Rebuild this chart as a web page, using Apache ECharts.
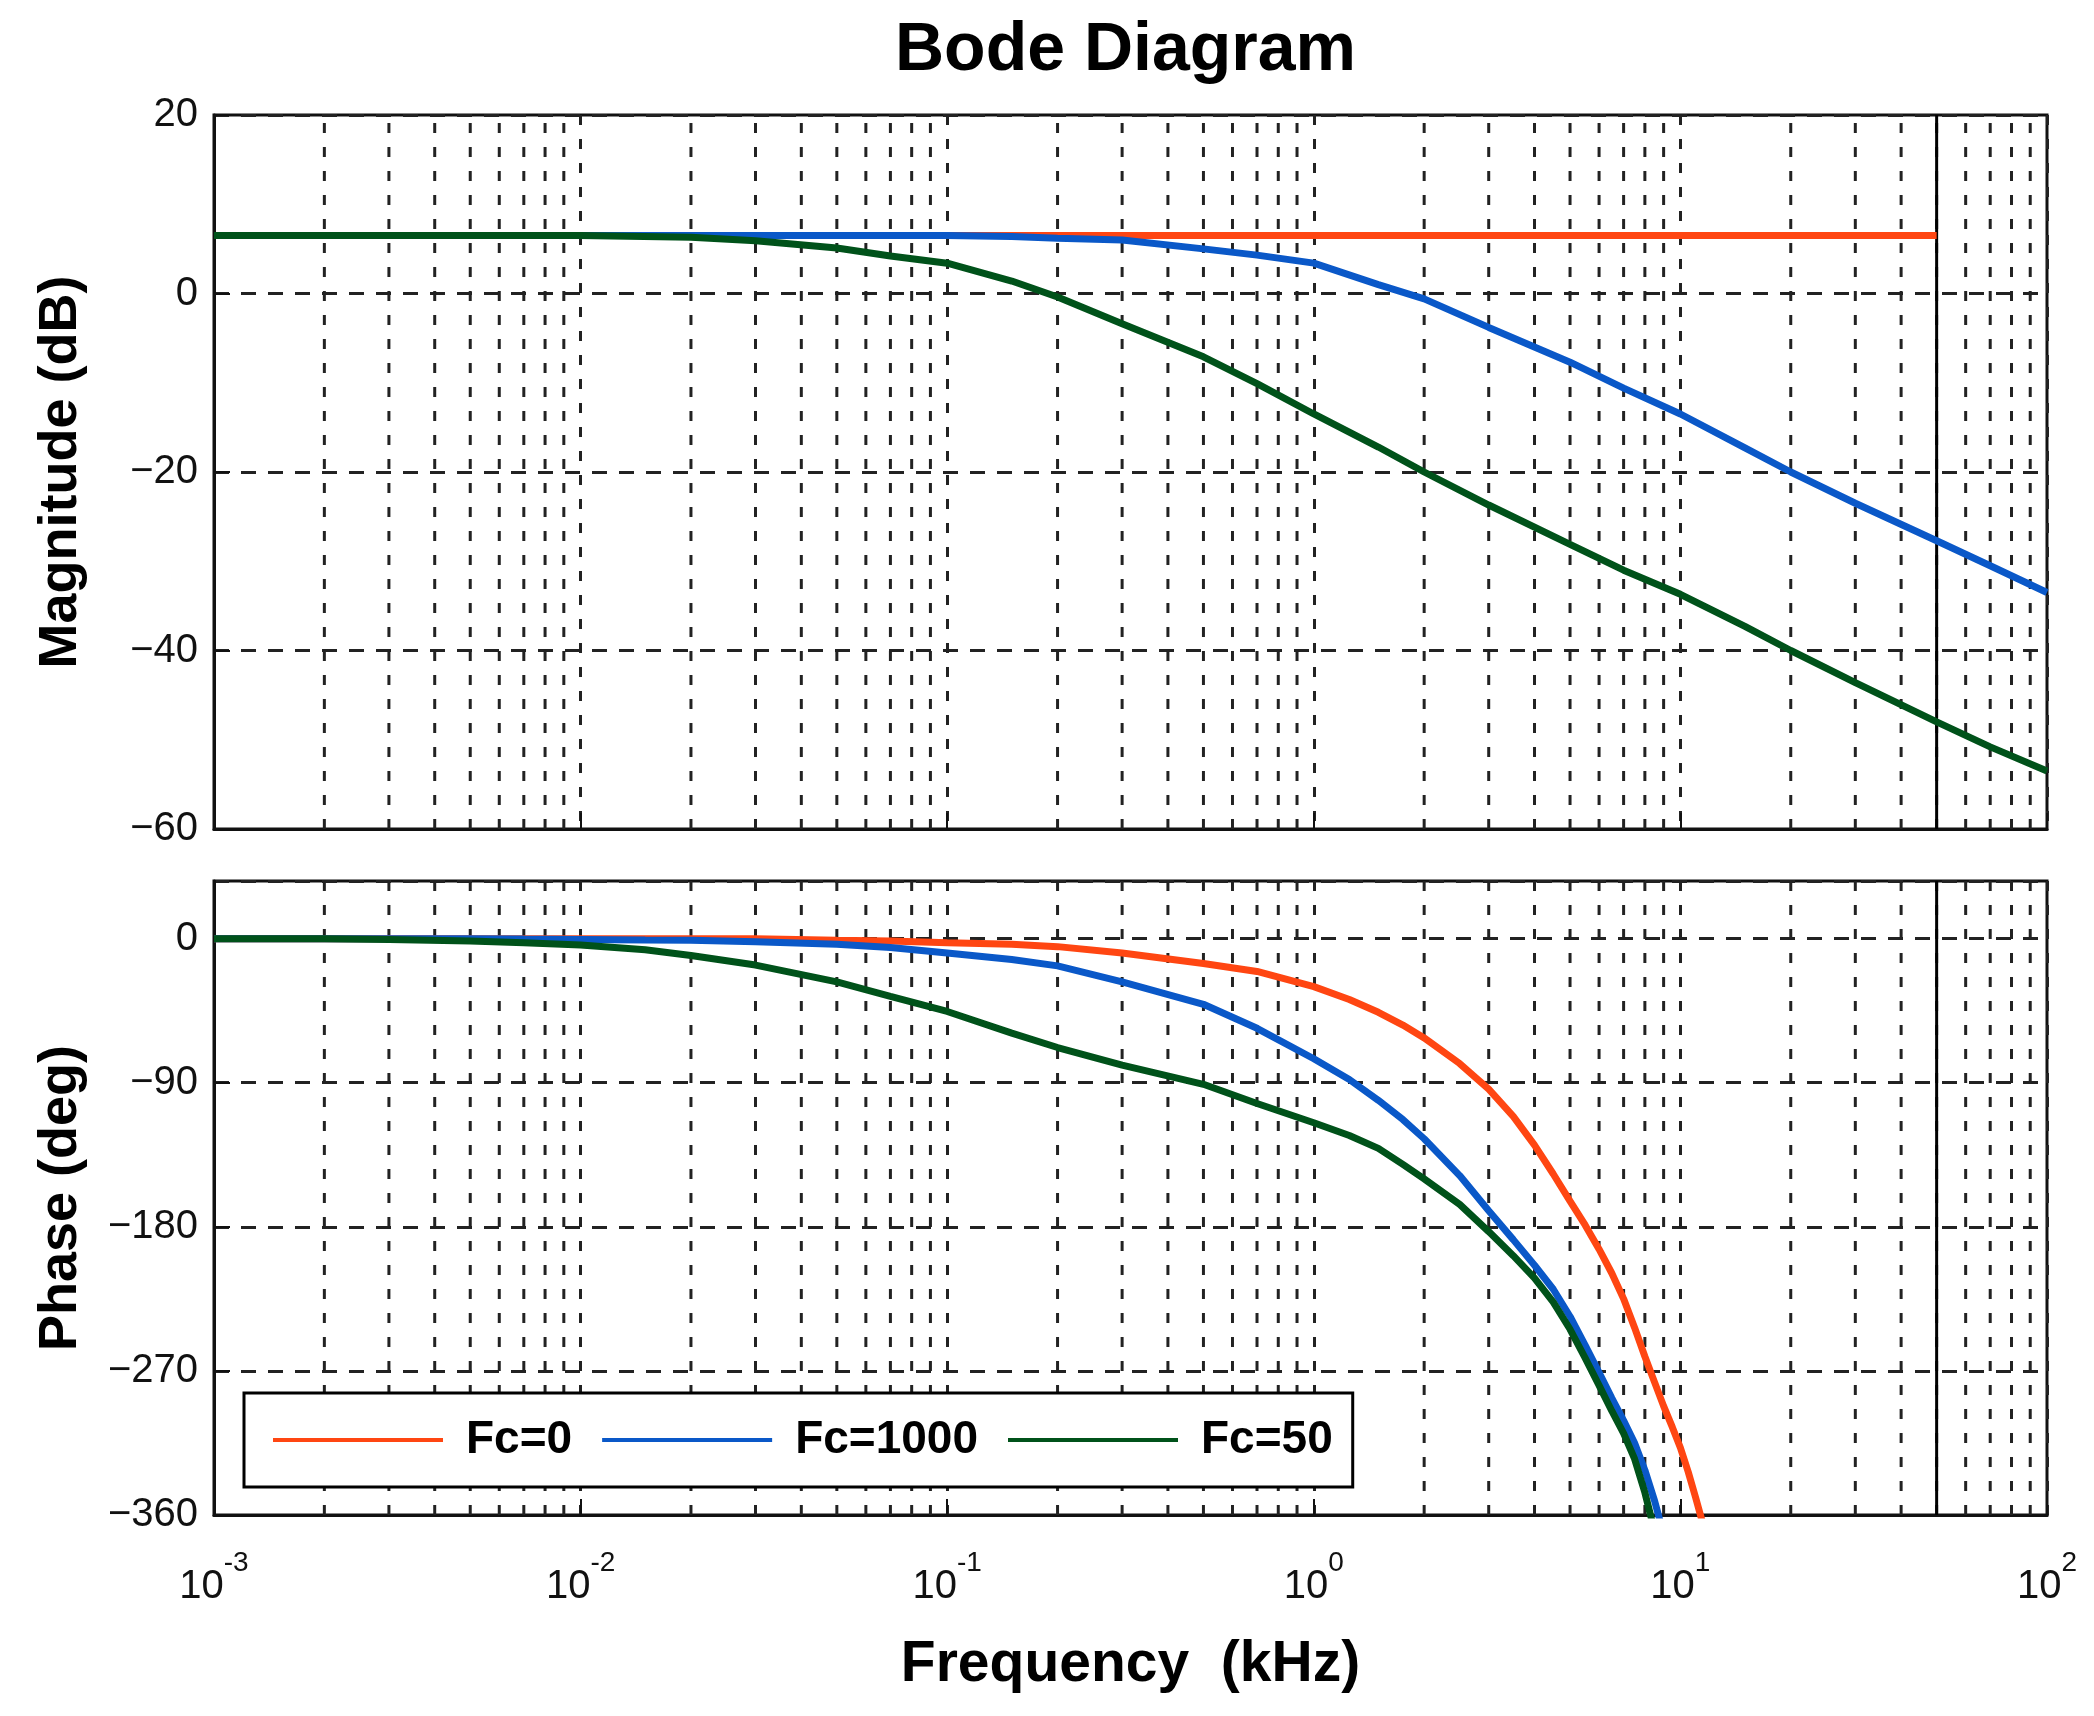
<!DOCTYPE html>
<html>
<head>
<meta charset="utf-8">
<title>Bode Diagram</title>
<script src="https://cdn.jsdelivr.net/npm/echarts/dist/echarts.min.js"></script>
<style>
    html, body { margin: 0; padding: 0; background: #fff; }
    #chart { width: 2094px; height: 1716px; }
</style>
</head>
<body>
<div id="chart"></div>
<script>
/* Bode diagram, magnitude + phase */
var seriesNames = ['Fc=0', 'Fc=1000', 'Fc=50'];
var seriesColors = ['#ff4612', '#0a58c8', '#00521a'];

// magnitude (dB) vs frequency (kHz)
var magFreq = [0.001, 0.002, 0.005, 0.01, 0.02, 0.03, 0.05, 0.07, 0.1, 0.15, 0.2, 0.3, 0.5, 0.7,
    1, 1.5, 2, 3, 5, 7, 10, 15, 20, 30, 50, 70, 100];
var magFc0 = [6.5, 6.5, 6.5, 6.5, 6.5, 6.5, 6.5, 6.5, 6.5, 6.5, 6.5, 6.5, 6.5, 6.5,
    6.5, 6.5, 6.5, 6.5, 6.5, 6.5, 6.5, 6.5, 6.5, 6.5, 6.5, null, null];
var magFc1000 = [6.5, 6.5, 6.5, 6.5, 6.5, 6.5, 6.5, 6.5, 6.5, 6.4, 6.2, 6.0, 5.0, 4.3,
    3.4, 1.0, -0.6, -3.8, -7.7, -10.6, -13.5, -17.3, -20.0, -23.5, -27.7, -30.5, -33.5];
var magFc50 = [6.5, 6.5, 6.5, 6.5, 6.3, 5.9, 5.1, 4.2, 3.4, 1.4, -0.4, -3.4, -7.1, -10.1,
    -13.5, -17.2, -20.0, -23.7, -28.1, -31.0, -33.7, -37.3, -40.0, -43.6, -48.0, -50.8, -53.5];

// phase (deg) vs frequency (kHz)
var phaseFreq = [0.001, 0.002, 0.003, 0.005, 0.007, 0.01, 0.015, 0.02, 0.03, 0.05, 0.07, 0.1, 0.15, 0.2,
    0.3, 0.5, 0.7, 1, 1.25, 1.5, 1.75, 2, 2.5, 3, 3.5, 4, 4.5, 5, 5.5, 6, 6.5, 7, 7.5, 8, 8.5, 9,
    9.5, 10, 10.5, 11, 11.5, 12];
var phaseFc0 = [0, 0, 0, 0, 0, 0, 0, 0, 0, -1, -1.5, -2.5, -3.5, -5,
    -9, -15.5, -20.5, -30, -38, -46, -54, -62, -78, -94, -111, -129, -147, -164, -179, -194, -209, -225, -243, -261, -277, -292,
    -305, -318, -333, -349, -365, -383];
var phaseFc1000 = [0, 0, 0, 0, -0.3, -0.5, -0.8, -1, -2, -3.5, -5.5, -9, -13, -17,
    -27, -41, -56, -75, -88, -101, -113, -125, -148, -170, -188, -204, -219, -236, -254, -271, -287, -301, -315, -332, -351, -372,
    null, null, null, null, null, null];
var phaseFc50 = [0, 0, -0.5, -1.5, -2.5, -4, -7, -10.5, -16.5, -27, -36, -45.5, -59, -68,
    -79, -91, -103, -115, -123, -131, -141, -150, -166, -183, -198, -212, -227, -244, -262, -279, -295, -309, -325, -346, -370, null,
    null, null, null, null, null, null];

var nyquistFreq = 50;   // solid vertical line
var minorMult = [2, 3, 4, 5, 6, 7, 8, 9];
var decades = [0.001, 0.01, 0.1, 1, 10];
var magRange = [-60, 20];
var phaseRange = [-360, 36];

(function () {
    'use strict';
    var FONT = "'Liberation Sans', Arial, Helvetica, sans-serif";
    var gridColor = '#222';
    var myChart = echarts.init(document.getElementById('chart'));

    function pairs(xs, ys) {
        return xs.map(function (x, i) { return [x, ys[i]]; });
    }

    function minus(v) {
        return v < 0 ? '\u2212' + Math.abs(v) : String(v);
    }

    // vertical dashed grid lines at 2..9 of each decade, as broken line segments
    function minorGrid(range) {
        var pts = [];
        decades.forEach(function (d) {
            minorMult.forEach(function (m) {
                var f = +(m * d).toPrecision(3);
                pts.push([f, range[0]], [f, range[1]], [f, null]);
            });
        });
        return pts;
    }

    function xAxisOf(idx, withLabels) {
        return {
            gridIndex: idx,
            type: 'log',
            logBase: 10,
            min: 0.001,
            max: 100,
            axisLine: { show: true, onZero: false, lineStyle: { color: '#111', width: 3 } },
            axisTick: { show: true, inside: true, length: 16, lineStyle: { color: '#111', width: 2 } },
            splitLine: { show: true, lineStyle: { color: gridColor, width: 3, type: [10, 14] } },
            axisLabel: {
                show: withLabels,
                margin: 34,
                formatter: function (v) {
                    var e = Math.round(Math.log10(v));
                    return '{b|10}{e|' + e + '}';
                },
                rich: {
                    b: { fontSize: 40, fontFamily: FONT, color: '#111', lineHeight: 58, verticalAlign: 'bottom' },
                    e: { fontSize: 28, fontFamily: FONT, color: '#111', lineHeight: 58, verticalAlign: 'top' }
                }
            },
            name: withLabels ? 'Frequency  (kHz)' : '',
            nameLocation: 'middle',
            nameGap: 122,
            nameTextStyle: { fontSize: 57, fontWeight: 'bold', fontFamily: FONT, color: '#000' }
        };
    }

    function yAxisOf(idx, range, step, name) {
        return {
            gridIndex: idx,
            type: 'value',
            min: range[0],
            max: range[1],
            interval: step,
            axisLine: { show: true, onZero: false, lineStyle: { color: '#111', width: 3 } },
            axisTick: { show: true, inside: true, length: 16, lineStyle: { color: '#111', width: 2 } },
            splitLine: { show: true, lineStyle: { color: gridColor, width: 3, type: [15, 12] } },
            axisLabel: {
                margin: 16,
                fontSize: 40,
                fontFamily: FONT,
                color: '#111',
                showMaxLabel: idx === 0,
                formatter: minus
            },
            name: name,
            nameLocation: 'middle',
            nameGap: 126,
            nameTextStyle: { fontSize: 54, fontWeight: 'bold', fontFamily: FONT, color: '#000' }
        };
    }

    function curve(name, color, idx, data) {
        return {
            name: name,
            type: 'line',
            xAxisIndex: idx,
            yAxisIndex: idx,
            data: data,
            symbol: 'none',
            showSymbol: false,
            clip: true,
            z: 3,
            lineStyle: { color: color, width: 7 },
            itemStyle: { color: color }
        };
    }

    function helperLine(idx, data, style) {
        return {
            type: 'line',
            xAxisIndex: idx,
            yAxisIndex: idx,
            data: data,
            symbol: 'none',
            showSymbol: false,
            connectNulls: false,
            silent: true,
            z: 1,
            lineStyle: style
        };
    }

    var dashStyle = { color: gridColor, width: 3, type: [10, 14] };
    var solidStyle = { color: '#000', width: 3, type: 'solid' };

    var option = {
        backgroundColor: '#fff',
        animation: false,
        title: {
            text: 'Bode Diagram',
            left: 890,
            top: 12,
            textStyle: { fontSize: 68, fontWeight: 'bold', fontFamily: FONT, color: '#000' }
        },
        legend: {
            data: seriesNames,
            left: 244,
            top: 1393,
            orient: 'horizontal',
            icon: 'rect',
            itemWidth: 170,
            itemHeight: 4,
            itemGap: 30,
            padding: [24, 20, 24, 29],
            borderColor: '#000',
            borderWidth: 3,
            backgroundColor: '#fff',
            textStyle: {
                fontSize: 46,
                fontWeight: 'bold',
                fontFamily: FONT,
                color: '#000',
                padding: [0, 0, 0, 18]
            },
            z: 10
        },
        grid: [
            { left: 214, right: 47, top: 115, height: 714, show: true, borderColor: '#111', borderWidth: 3 },
            { left: 214, right: 47, top: 881, height: 634, show: true, borderColor: '#111', borderWidth: 3 }
        ],
        xAxis: [xAxisOf(0, false), xAxisOf(1, true)],
        yAxis: [
            yAxisOf(0, magRange, 20, 'Magnitude (dB)'),
            yAxisOf(1, phaseRange, 90, 'Phase (deg)')
        ],
        series: [
            helperLine(0, minorGrid(magRange), dashStyle),
            helperLine(1, minorGrid(phaseRange), dashStyle),
            helperLine(0, [[nyquistFreq, magRange[0]], [nyquistFreq, magRange[1]]], solidStyle),
            helperLine(1, [[nyquistFreq, phaseRange[0]], [nyquistFreq, phaseRange[1]]], solidStyle),
            curve(seriesNames[0], seriesColors[0], 0, pairs(magFreq, magFc0)),
            curve(seriesNames[1], seriesColors[1], 0, pairs(magFreq, magFc1000)),
            curve(seriesNames[2], seriesColors[2], 0, pairs(magFreq, magFc50)),
            curve(seriesNames[0], seriesColors[0], 1, pairs(phaseFreq, phaseFc0)),
            curve(seriesNames[1], seriesColors[1], 1, pairs(phaseFreq, phaseFc1000)),
            curve(seriesNames[2], seriesColors[2], 1, pairs(phaseFreq, phaseFc50))
        ]
    };
    myChart.setOption(option);
    window.addEventListener('resize', function () {
        myChart.resize();
    });
})();
</script>
</body>
</html>
